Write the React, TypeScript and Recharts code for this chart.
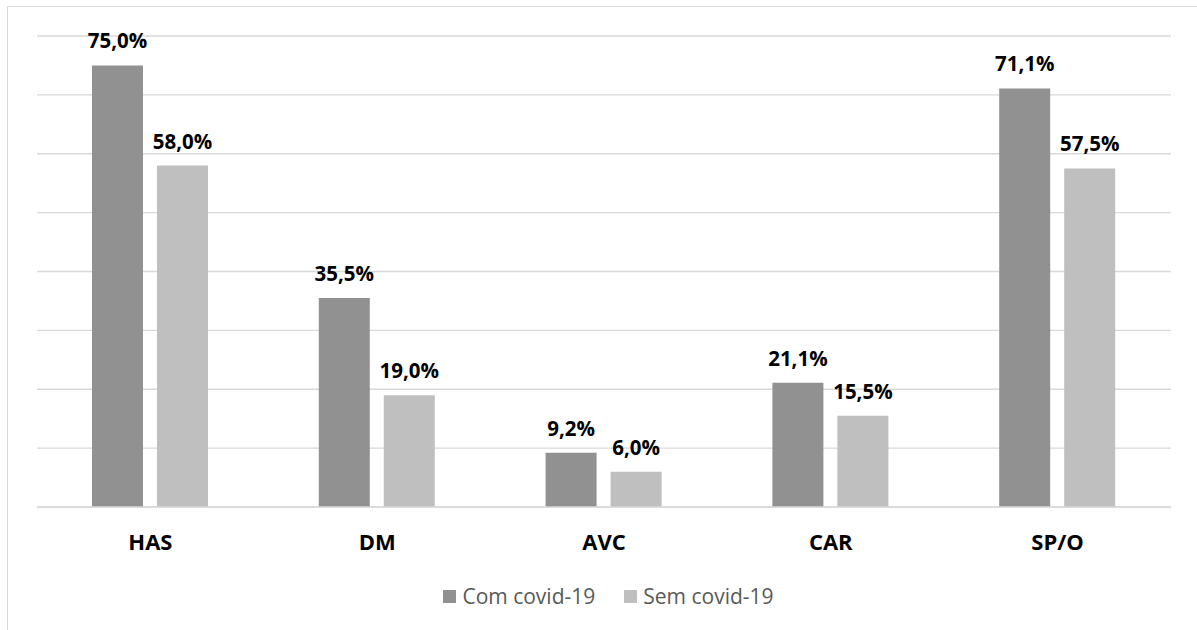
import { BarChart, Bar, XAxis, YAxis, CartesianGrid, LabelList } from 'recharts'

const categories = ['HAS', 'DM', 'AVC', 'CAR', 'SP/O']
const comCovid = [75.0, 35.5, 9.2, 21.1, 71.1]
const semCovid = [58.0, 19.0, 6.0, 15.5, 57.5]
const yTicks = [0, 10, 20, 30, 40, 50, 60, 70, 80]

const DARK = '#919191'
const LIGHT = '#bfbfbf'
const FONT = '"Open Sans", Lato, sans-serif'

const data = categories.map((name, i) => ({ name, com: comCovid[i], sem: semCovid[i] }))

const fmt = (v: number) => `${v.toFixed(1).replace('.', ',')}%`

function ValueLabel(props: any) {
  const { x, y, width, value } = props
  return (
    <text
      x={x + width / 2}
      y={y - 17}
      textAnchor="middle"
      fontFamily={FONT}
      fontWeight={700}
      fontSize={20.5}
      fill="#000"
    >
      {fmt(value)}
    </text>
  )
}

function CategoryTick(props: any) {
  const { x, y, payload } = props
  return (
    <text x={x} y={y + 35} textAnchor="middle" fontFamily={FONT} fontWeight={700} fontSize={22} fill="#000">
      {payload.value}
    </text>
  )
}

function LegendRow() {
  const items = [
    { label: 'Com covid-19', color: DARK },
    { label: 'Sem covid-19', color: LIGHT },
  ]
  return (
    <div
      style={{
        position: 'absolute',
        left: 0,
        top: 582,
        width: 1197,
        display: 'flex',
        justifyContent: 'center',
        gap: 29,
        fontFamily: FONT,
        fontSize: 21,
        color: '#595959',
        paddingLeft: 20,
        boxSizing: 'border-box',
      }}
    >
      {items.map((it) => (
        <div key={it.label} style={{ display: 'flex', alignItems: 'center' }}>
          <span style={{ width: 13, height: 13, background: it.color, marginRight: 6, display: 'inline-block' }} />
          <span>{it.label}</span>
        </div>
      ))}
    </div>
  )
}

export default function App() {
  return (
    <div style={{ position: 'fixed', left: 0, top: 0, width: 1197, height: 630, overflow: 'hidden', background: '#fff' }}>
      <div style={{ position: 'absolute', left: 0, top: 0 }}>
        <BarChart
          width={1197}
          height={630}
          data={data}
          margin={{ top: 36, right: 26, left: 37, bottom: 63 }}
          barGap={14}
          barSize={51}
        >
          <CartesianGrid vertical={false} stroke="#d9d9d9" strokeWidth={1.3} />
          <YAxis hide domain={[0, 80]} ticks={yTicks} />
          <XAxis
            dataKey="name"
            axisLine={{ stroke: '#d9d9d9', strokeWidth: 1.3 }}
            tickLine={false}
            height={60}
            tick={<CategoryTick />}
            interval={0}
          />
          <Bar dataKey="com" fill={DARK} isAnimationActive={false}>
            <LabelList dataKey="com" content={<ValueLabel />} />
          </Bar>
          <Bar dataKey="sem" fill={LIGHT} isAnimationActive={false}>
            <LabelList dataKey="sem" content={<ValueLabel />} />
          </Bar>
        </BarChart>
      </div>
      <div
        style={{
          position: 'absolute',
          left: 7,
          top: 6,
          width: 1200,
          height: 640,
          borderLeft: '1.5px solid #d9d9d9',
          borderTop: '1.5px solid #d9d9d9',
          pointerEvents: 'none',
        }}
      />
      <LegendRow />
    </div>
  )
}
